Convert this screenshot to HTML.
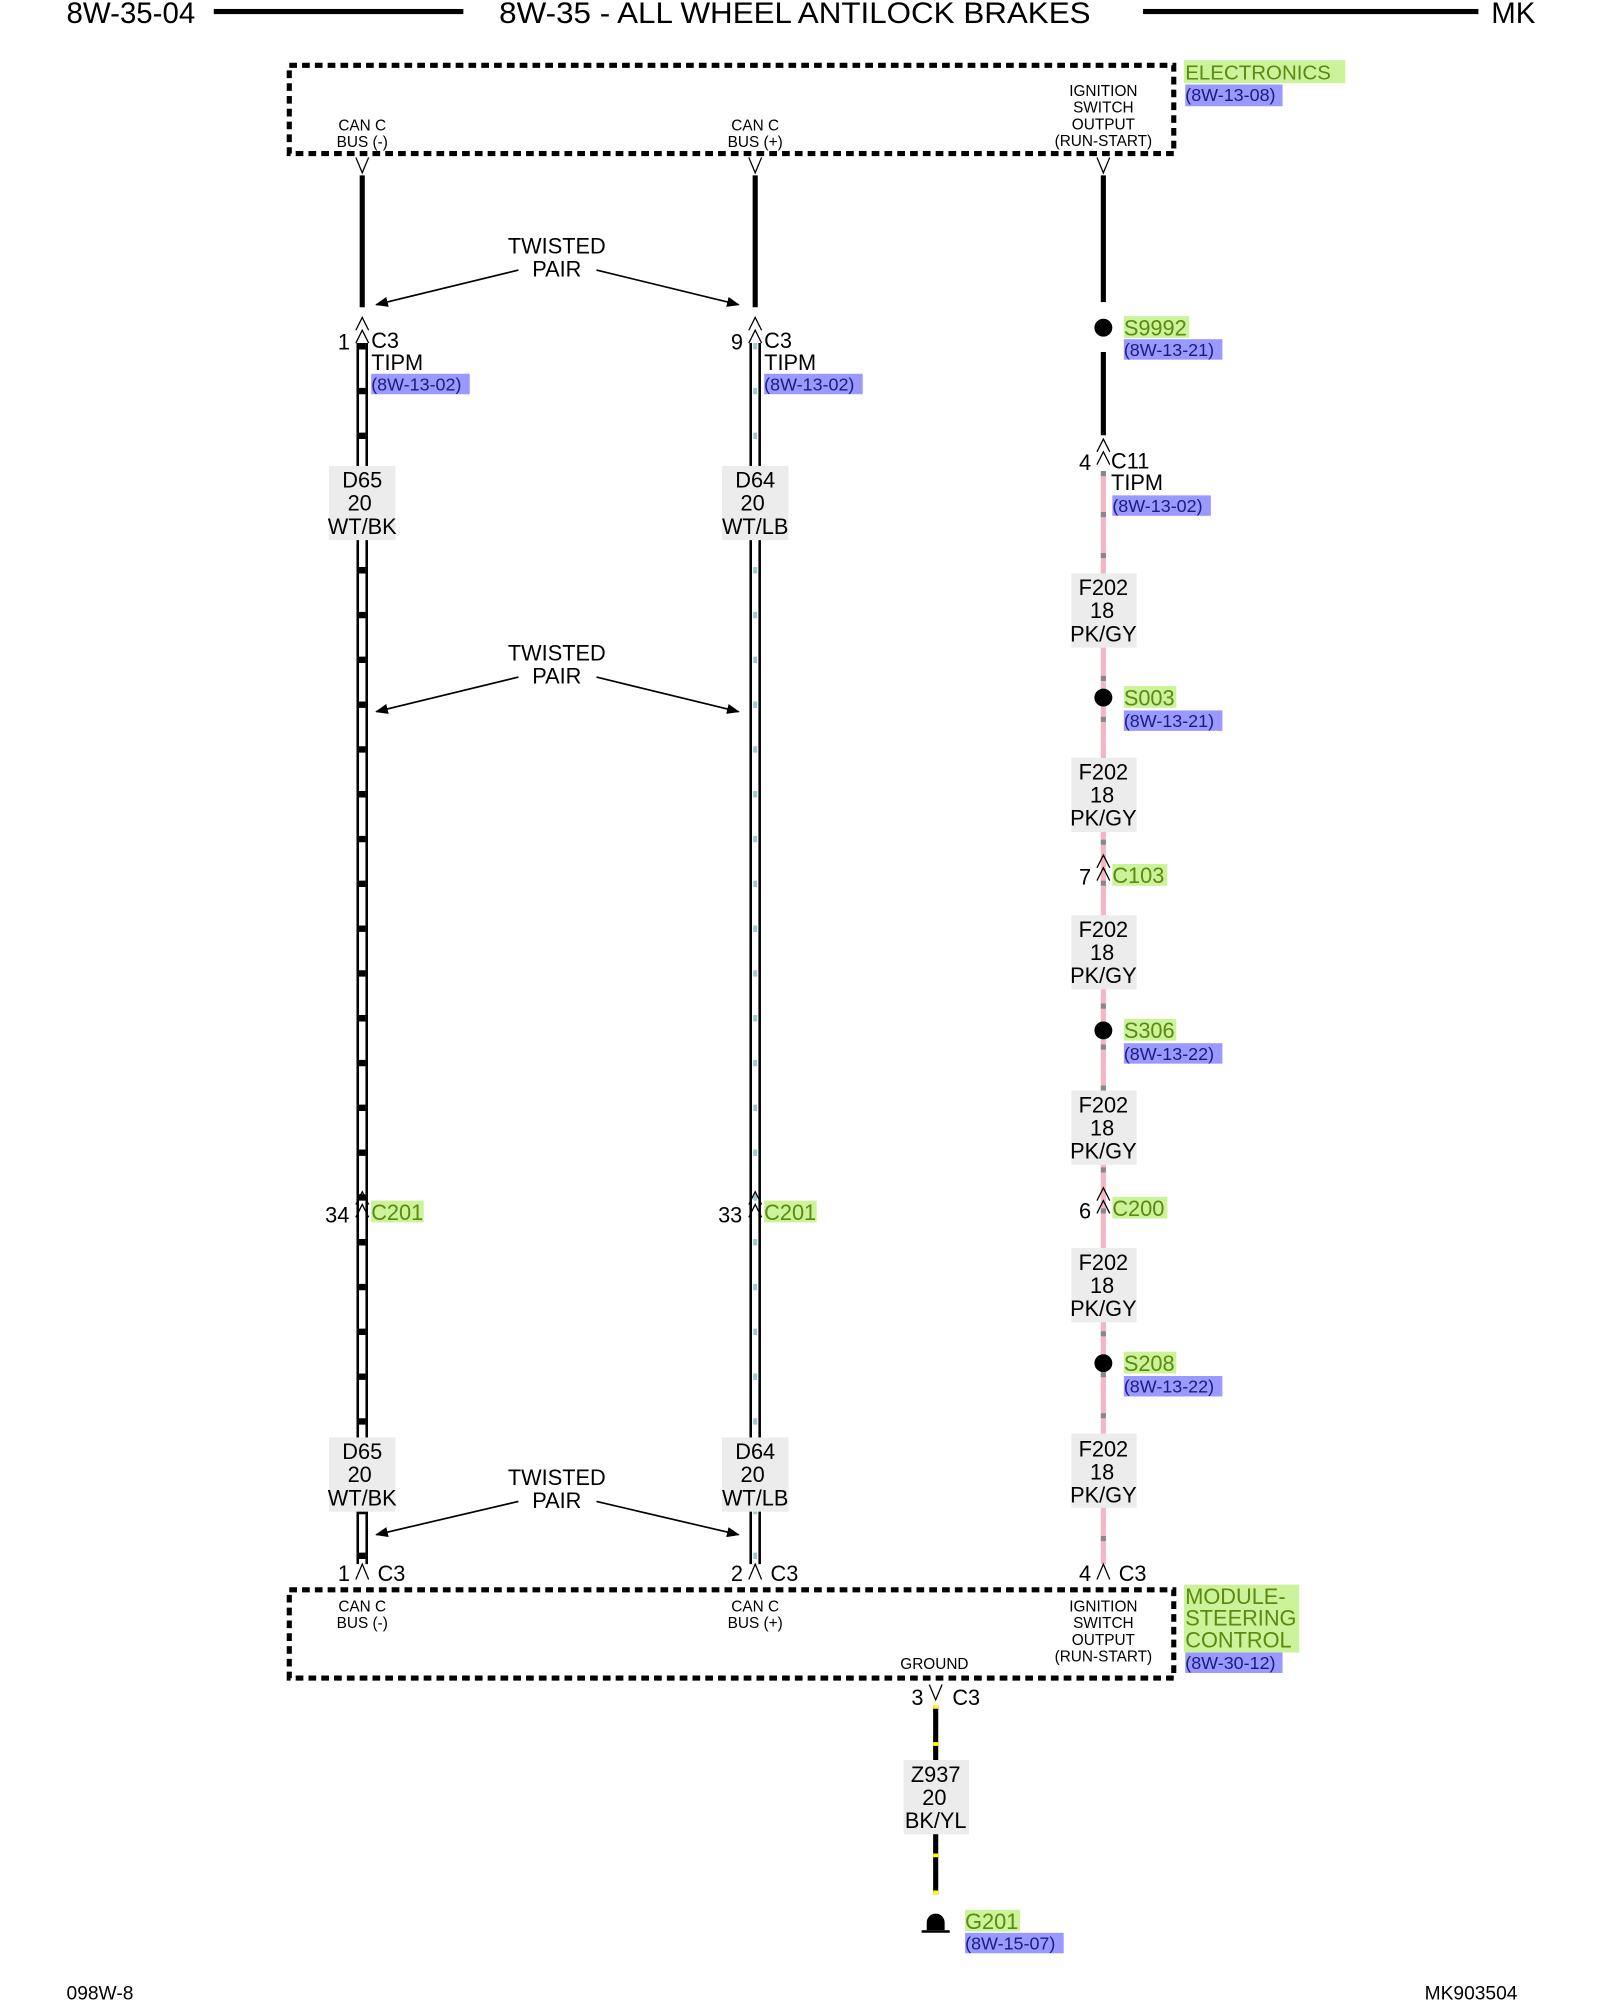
<!DOCTYPE html>
<html><head><meta charset="utf-8"><style>
html,body{margin:0;padding:0;background:#fff}
svg{display:block}
text{font-family:"Liberation Sans",Arial,sans-serif}
</style></head><body>
<svg width="1600" height="2000" viewBox="0 0 1250 1562.5" xmlns="http://www.w3.org/2000/svg">
<defs>
<g id="dchev"><path d="M-5,-4 L0,-14 L5,-4 M-5,6 L0,-4 L5,6" fill="none" stroke="#000" stroke-width="1"/></g>
<g id="chev"><path d="M-5,6 L0,-6 L5,6" fill="none" stroke="#000" stroke-width="1"/></g>
<g id="vchev"><path d="M-5,-6 L0,6 L5,-6" fill="none" stroke="#000" stroke-width="1"/></g>
<marker id="ar" markerWidth="10" markerHeight="8" refX="9" refY="4" orient="auto" markerUnits="userSpaceOnUse"><path d="M0,0 L10,4 L0,8 z" fill="#000"/></marker>
</defs>
<!-- header -->
<text x="52" y="18" font-size="23">8W-35-04</text>
<rect x="167" y="7" width="195" height="4" fill="#000"/>
<text x="621" y="18" font-size="23" text-anchor="middle" textLength="462" lengthAdjust="spacingAndGlyphs">8W-35 - ALL WHEEL ANTILOCK BRAKES</text>
<rect x="893" y="7" width="262" height="4" fill="#000"/>
<text x="1165" y="18" font-size="23">MK</text>

<!-- top box -->
<rect x="226" y="51" width="691" height="69" fill="none" stroke="#000" stroke-width="4" stroke-dasharray="6 4"/>
<rect x="925" y="47" width="126" height="18" fill="#ccf29a"/>
<text x="926" y="62" font-size="16" fill="#5a8a10">ELECTRONICS</text>
<rect x="926" y="66" width="76" height="17" fill="#9999ff"/>
<text x="926" y="79" font-size="14" fill="#1a1a80">(8W-13-08)</text>
<g font-size="12" text-anchor="middle">
<text x="283" y="102">CAN C</text><text x="283" y="115">BUS (-)</text>
<text x="590" y="102">CAN C</text><text x="590" y="115">BUS (+)</text>
<text x="862" y="75">IGNITION</text><text x="862" y="88">SWITCH</text><text x="862" y="101">OUTPUT</text><text x="862" y="114">(RUN-START)</text>
</g>
<use href="#vchev" x="283" y="129"/><use href="#vchev" x="590" y="129"/><use href="#vchev" x="862" y="129"/>

<g stroke="#000" stroke-width="4">
<line x1="283" y1="137" x2="283" y2="240"/>
<line x1="590" y1="137" x2="590" y2="240"/>
<line x1="862" y1="137" x2="862" y2="236"/>
<line x1="862" y1="275" x2="862" y2="340"/>
</g>

<g font-size="17" text-anchor="middle">
<text x="435" y="198">TWISTED</text><text x="435" y="216">PAIR</text>
<text x="435" y="516">TWISTED</text><text x="435" y="534">PAIR</text>
<text x="435" y="1160">TWISTED</text><text x="435" y="1178">PAIR</text>
</g>
<g stroke="#000" stroke-width="1.3" marker-end="url(#ar)">
<line x1="405" y1="211" x2="294" y2="238"/><line x1="466" y1="211" x2="577" y2="238"/>
<line x1="405" y1="529" x2="294" y2="556"/><line x1="466" y1="529" x2="577" y2="556"/>
<line x1="405" y1="1173" x2="294" y2="1199"/><line x1="466" y1="1173" x2="577" y2="1199"/>
</g>

<line x1="283" y1="268" x2="283" y2="1222" stroke="#000" stroke-width="9"/>
<line x1="283" y1="268" x2="283" y2="1222" stroke="#fff" stroke-width="5"/>
<line x1="283" y1="268" x2="283" y2="1222" stroke="#000" stroke-width="5" stroke-dasharray="5 30"/>
<line x1="590" y1="268" x2="590" y2="1222" stroke="#000" stroke-width="9"/>
<line x1="590" y1="268" x2="590" y2="1222" stroke="#fff" stroke-width="5"/>
<line x1="590" y1="268" x2="590" y2="1222" stroke="#9cc" stroke-width="3" stroke-dasharray="5 30"/>

<line x1="862" y1="368" x2="862" y2="1222" stroke="#f5b5c4" stroke-width="4"/>
<line x1="862" y1="368" x2="862" y2="1222" stroke="#888" stroke-width="4" stroke-dasharray="4 28"/>

<use href="#dchev" x="283" y="262"/><use href="#dchev" x="590" y="262"/>
<use href="#dchev" x="862" y="357"/>
<use href="#dchev" x="283" y="945"/><use href="#dchev" x="590" y="945"/>
<use href="#dchev" x="862" y="682"/><use href="#dchev" x="862" y="942"/>
<use href="#chev" x="283" y="1228"/><use href="#chev" x="590" y="1228"/><use href="#chev" x="862" y="1228"/>

<g font-size="17">
<text x="264" y="273">1</text><text x="290" y="272">C3</text><text x="290" y="289">TIPM</text>
<text x="571" y="273">9</text><text x="597" y="272">C3</text><text x="597" y="289">TIPM</text>
<text x="843" y="367">4</text><text x="868" y="366">C11</text><text x="868" y="383">TIPM</text>
<text x="254" y="955">34</text><text x="561" y="955">33</text>
<text x="843" y="691">7</text><text x="843" y="952">6</text>
<text x="264" y="1235">1</text><text x="295" y="1235">C3</text>
<text x="571" y="1235">2</text><text x="602" y="1235">C3</text>
<text x="843" y="1235">4</text><text x="874" y="1235">C3</text>
<text x="712" y="1332">3</text><text x="744" y="1332">C3</text>
</g>
<g font-size="14" fill="#1a1a80">
<rect x="290" y="292" width="77" height="16" fill="#9999ff"/><text x="290" y="305">(8W-13-02)</text>
<rect x="597" y="292" width="77" height="16" fill="#9999ff"/><text x="597" y="305">(8W-13-02)</text>
<rect x="869" y="387" width="77" height="16" fill="#9999ff"/><text x="869" y="400">(8W-13-02)</text>
<rect x="878" y="265" width="77" height="16" fill="#9999ff"/><text x="878" y="278">(8W-13-21)</text>
<rect x="878" y="555" width="77" height="16" fill="#9999ff"/><text x="878" y="568">(8W-13-21)</text>
<rect x="878" y="815" width="77" height="16" fill="#9999ff"/><text x="878" y="828">(8W-13-22)</text>
<rect x="878" y="1075" width="77" height="16" fill="#9999ff"/><text x="878" y="1088">(8W-13-22)</text>
<rect x="926" y="1291" width="76" height="16" fill="#9999ff"/><text x="926" y="1304">(8W-30-12)</text>
<rect x="754" y="1510" width="77" height="16" fill="#9999ff"/><text x="754" y="1523">(8W-15-07)</text>
</g>
<g font-size="17" fill="#5a8a10">
<rect x="878" y="247" width="51" height="17" fill="#ccf29a"/><text x="878" y="262">S9992</text>
<rect x="878" y="536" width="41" height="17" fill="#ccf29a"/><text x="878" y="551">S003</text>
<rect x="878" y="796" width="41" height="17" fill="#ccf29a"/><text x="878" y="811">S306</text>
<rect x="878" y="1056" width="41" height="17" fill="#ccf29a"/><text x="878" y="1071">S208</text>
<rect x="869" y="675" width="43" height="17" fill="#ccf29a"/><text x="869" y="690">C103</text>
<rect x="869" y="935" width="43" height="17" fill="#ccf29a"/><text x="869" y="950">C200</text>
<rect x="290" y="938" width="41" height="17" fill="#ccf29a"/><text x="290" y="953">C201</text>
<rect x="597" y="938" width="41" height="17" fill="#ccf29a"/><text x="597" y="953">C201</text>
<rect x="754" y="1492" width="43" height="17" fill="#ccf29a"/><text x="754" y="1507">G201</text>
<rect x="925" y="1238" width="90" height="53" fill="#ccf29a"/>
<text x="926" y="1253">MODULE-</text><text x="926" y="1270">STEERING</text><text x="926" y="1287">CONTROL</text>
</g>
<g fill="#000">
<circle cx="862" cy="256" r="7"/><circle cx="862" cy="545" r="7"/>
<circle cx="862" cy="805" r="7"/><circle cx="862" cy="1065" r="7"/>
</g>

<g font-size="17" text-anchor="middle">
<rect x="257" y="364" width="52" height="58" fill="#ececec"/>
<text x="283" y="381">D65</text><text x="281" y="399">20</text><text x="283" y="417">WT/BK</text>
<rect x="564" y="364" width="52" height="58" fill="#ececec"/>
<text x="590" y="381">D64</text><text x="588" y="399">20</text><text x="590" y="417">WT/LB</text>
<rect x="257" y="1123" width="52" height="58" fill="#ececec"/>
<text x="283" y="1140">D65</text><text x="281" y="1158">20</text><text x="283" y="1176">WT/BK</text>
<rect x="564" y="1123" width="52" height="58" fill="#ececec"/>
<text x="590" y="1140">D64</text><text x="588" y="1158">20</text><text x="590" y="1176">WT/LB</text>
<rect x="837" y="448" width="51" height="58" fill="#ececec"/>
<text x="862" y="465">F202</text><text x="861" y="483">18</text><text x="862" y="501">PK/GY</text>
<rect x="837" y="592" width="51" height="58" fill="#ececec"/>
<text x="862" y="609">F202</text><text x="861" y="627">18</text><text x="862" y="645">PK/GY</text>
<rect x="837" y="715" width="51" height="58" fill="#ececec"/>
<text x="862" y="732">F202</text><text x="861" y="750">18</text><text x="862" y="768">PK/GY</text>
<rect x="837" y="852" width="51" height="58" fill="#ececec"/>
<text x="862" y="869">F202</text><text x="861" y="887">18</text><text x="862" y="905">PK/GY</text>
<rect x="837" y="975" width="51" height="58" fill="#ececec"/>
<text x="862" y="992">F202</text><text x="861" y="1010">18</text><text x="862" y="1028">PK/GY</text>
<rect x="837" y="1120" width="51" height="58" fill="#ececec"/>
<text x="862" y="1138">F202</text><text x="861" y="1156">18</text><text x="862" y="1174">PK/GY</text>
</g>

<rect x="226" y="1242" width="691" height="69" fill="none" stroke="#000" stroke-width="4" stroke-dasharray="6 4"/>
<g font-size="12" text-anchor="middle">
<text x="283" y="1259">CAN C</text><text x="283" y="1272">BUS (-)</text>
<text x="590" y="1259">CAN C</text><text x="590" y="1272">BUS (+)</text>
<text x="862" y="1259">IGNITION</text><text x="862" y="1272">SWITCH</text><text x="862" y="1285">OUTPUT</text><text x="862" y="1298">(RUN-START)</text>
<text x="730" y="1304">GROUND</text>
</g>
<use href="#vchev" x="731" y="1322"/>
<line x1="731" y1="1332" x2="731" y2="1480" stroke="#000" stroke-width="4"/>
<line x1="731" y1="1332" x2="731" y2="1480" stroke="#ff0" stroke-width="4" stroke-dasharray="3 26"/>
<g font-size="17" text-anchor="middle">
<rect x="706" y="1375" width="51" height="58" fill="#ececec"/>
<text x="731" y="1392">Z937</text><text x="730" y="1410">20</text><text x="731" y="1428">BK/YL</text>
</g>
<path d="M724,1508 L724,1502 A7,7 0 0 1 738,1502 L738,1508 Z" fill="#000"/>
<line x1="720" y1="1509" x2="742" y2="1509" stroke="#000" stroke-width="2"/>

<text x="52" y="1562" font-size="15">098W-8</text>
<text x="1113" y="1562" font-size="15">MK903504</text>
</svg>
</body></html>
